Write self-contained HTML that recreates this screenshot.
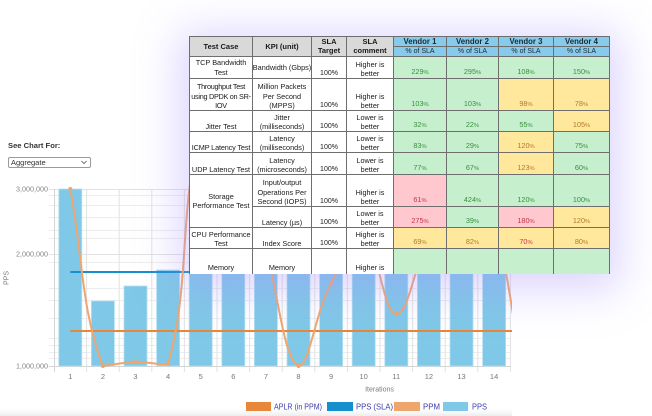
<!DOCTYPE html>
<html><head><meta charset="utf-8">
<style>
html,body{margin:0;padding:0;}
body{width:652px;height:416px;overflow:hidden;background:#fff;position:relative;font-family:"Liberation Sans",sans-serif;}
.lbl{position:absolute;left:8px;top:141px;font-size:7.6px;font-weight:bold;color:#333;white-space:nowrap;}
.sel{position:absolute;left:8px;top:157px;width:83px;height:11px;box-sizing:border-box;border:1px solid #9a9a9a;border-radius:2px;background:#fff;font-size:7.5px;color:#333;line-height:9px;padding-left:2px;}
.sel svg{position:absolute;right:3px;top:2px;}
#tbl{position:absolute;left:189px;top:36px;width:420px;height:237px;border-left:1px solid #6e6e6e;border-top:1px solid #6e6e6e;background:#fff;box-shadow:0 6px 40px 10px rgba(165,145,255,0.38);overflow:hidden;}
.c{position:absolute;box-sizing:border-box;border-right:1px solid #6e6e6e;border-bottom:1px solid #6e6e6e;display:flex;flex-direction:column;justify-content:flex-end;align-items:center;text-align:center;font-size:7.3px;line-height:9.2px;color:#1a1a1a;overflow:hidden;white-space:nowrap;}
.m{justify-content:center;}
.h{background:#d9d9d9;font-weight:bold;justify-content:center;font-size:7.5px;color:#1a1a1a;}
.v{background:#86cbeb;font-weight:bold;justify-content:center;font-size:7.8px;line-height:9px;color:#1d2a33;}
.v2{background:#86cbeb;justify-content:center;font-size:7px;line-height:9px;color:#1d2a33;}
.g{background:#c6efce;color:#3b8f3f;}
.y{background:#ffe89c;color:#b07a2c;}
.r{background:#ffc7ce;color:#c4374a;}
.val{font-size:7.3px;}
.val small{font-size:5.8px;}
.tg{font-size:7px;}
.mem{justify-content:flex-start;padding-top:14px;border-bottom:none;}
</style></head>
<body>

<svg width="652" height="416" style="position:absolute;left:0;top:0" xmlns="http://www.w3.org/2000/svg">
<defs>
<clipPath id="cp"><rect x="0" y="0" width="512" height="416"/></clipPath>
<linearGradient id="bg" x1="0" y1="0" x2="0" y2="1"><stop offset="0" stop-color="#ffffff" stop-opacity="0"/><stop offset="1" stop-color="#ececec" stop-opacity="1"/></linearGradient>
</defs>
<rect x="0" y="406" width="512" height="10" fill="url(#bg)"/>
<g stroke="#ededed" stroke-width="1">
<line x1="49" y1="195.5" x2="511" y2="195.5"/>
<line x1="49" y1="205.5" x2="511" y2="205.5"/>
<line x1="49" y1="217.5" x2="511" y2="217.5"/>
<line x1="49" y1="230.5" x2="511" y2="230.5"/>
<line x1="49" y1="238.5" x2="511" y2="238.5"/>
<line x1="49" y1="262.5" x2="511" y2="262.5"/>
<line x1="49" y1="288.5" x2="511" y2="288.5"/>
<line x1="49" y1="300.5" x2="511" y2="300.5"/>
<line x1="49" y1="318.5" x2="511" y2="318.5"/>
<line x1="49" y1="338.5" x2="511" y2="338.5"/>
<line x1="49" y1="345.5" x2="511" y2="345.5"/>
<line x1="49" y1="352.5" x2="511" y2="352.5"/>
<line x1="49" y1="358.5" x2="511" y2="358.5"/>
</g>
<g stroke="#e2e2e2" stroke-width="1">
<line x1="49" y1="189.5" x2="511" y2="189.5"/>
<line x1="49" y1="254.5" x2="511" y2="254.5"/>
<line x1="86.6" y1="189" x2="86.6" y2="372"/>
<line x1="119.2" y1="189" x2="119.2" y2="372"/>
<line x1="151.8" y1="189" x2="151.8" y2="372"/>
<line x1="184.4" y1="189" x2="184.4" y2="372"/>
<line x1="217" y1="189" x2="217" y2="372"/>
<line x1="249.6" y1="189" x2="249.6" y2="372"/>
<line x1="282.2" y1="189" x2="282.2" y2="372"/>
<line x1="314.8" y1="189" x2="314.8" y2="372"/>
<line x1="347.4" y1="189" x2="347.4" y2="372"/>
<line x1="380" y1="189" x2="380" y2="372"/>
<line x1="412.6" y1="189" x2="412.6" y2="372"/>
<line x1="445.2" y1="189" x2="445.2" y2="372"/>
<line x1="477.8" y1="189" x2="477.8" y2="372"/>
<line x1="510.4" y1="189" x2="510.4" y2="372"/>
</g>
<line x1="54.5" y1="189" x2="54.5" y2="372" stroke="#d4d4d4"/>
<line x1="49" y1="366.5" x2="511" y2="366.5" stroke="#d4d4d4"/>

<g fill="#7fc8e7" stroke="#b3e0f3" stroke-width="0.8">
<rect x="58.8" y="189" width="23" height="177"/>
<rect x="91.4" y="301" width="23" height="65"/>
<rect x="124" y="286" width="23" height="80"/>
<rect x="156.6" y="270" width="23" height="96"/>
<rect x="189.2" y="255" width="23" height="111"/>
<rect x="221.8" y="255" width="23" height="111"/>
<rect x="254.4" y="255" width="23" height="111"/>
<rect x="287" y="255" width="23" height="111"/>
<rect x="319.6" y="255" width="23" height="111"/>
<rect x="352.2" y="255" width="23" height="111"/>
<rect x="384.8" y="255" width="23" height="111"/>
<rect x="417.4" y="255" width="23" height="111"/>
<rect x="450" y="255" width="23" height="111"/>
<rect x="482.6" y="255" width="23" height="111"/>
</g>

<g clip-path="url(#cp)">
<line x1="70.3" y1="272" x2="512" y2="272" stroke="#168fcf" stroke-width="2"/>
<line x1="70.3" y1="331" x2="512" y2="331" stroke="#e8873a" stroke-width="2"/>
<path d="M70.3,189 C83.2,259.8 80.8,307.5 102.9,366 C107,366 122.5,362.4 135.5,362 C148.5,361.6 164.8,366 168.1,364 C191,282.4 178.1,212.4 200.7,130 C204.1,118.8 227.7,120.2 233.3,130 C253.7,168.2 252.7,202.1 265.9,250 C278.9,296.5 283.5,358.4 298.5,366 C309.5,366 314.7,314.4 331.1,283 C340.9,264 353.5,235 363.7,240 C379.5,247.4 383,314 396.3,314 C409,314 413,267.8 428.9,240 C439.2,222.2 447.5,202.2 461.5,200 C473.5,198.2 487.8,214.1 494.1,230 C513.8,280.5 515,366 526.5,366" fill="none" stroke="#efa56e" stroke-width="2"/>
<g fill="#efa56e">
<circle cx="70.3" cy="189" r="2"/><circle cx="102.9" cy="366" r="2"/><circle cx="135.5" cy="362" r="2"/><circle cx="168.1" cy="364" r="2"/>
<circle cx="298.5" cy="366" r="2"/><circle cx="331.1" cy="283" r="2"/><circle cx="396.3" cy="314" r="2"/>
</g>
</g>

<g font-family="Liberation Sans, sans-serif" font-size="7.2" fill="#858585" text-anchor="end">
<text x="48" y="191.5">3,000,000</text>
<text x="48" y="256.5">2,000,000</text>
<text x="48" y="368.5">1,000,000</text>
</g>
<g font-family="Liberation Sans, sans-serif" font-size="7.5" fill="#777" text-anchor="middle">
<text x="70.3" y="379">1</text><text x="102.9" y="379">2</text><text x="135.5" y="379">3</text><text x="168.1" y="379">4</text>
<text x="200.7" y="379">5</text><text x="233.3" y="379">6</text><text x="265.9" y="379">7</text><text x="298.5" y="379">8</text>
<text x="331.1" y="379">9</text><text x="363.7" y="379">10</text><text x="396.3" y="379">11</text><text x="428.9" y="379">12</text>
<text x="461.5" y="379">13</text><text x="494.1" y="379">14</text>
</g>
<text x="379.5" y="391.5" font-family="Liberation Sans, sans-serif" font-size="7" fill="#7a7a7a" text-anchor="middle">Iterations</text>
<text transform="translate(8.5,278) rotate(-90)" font-family="Liberation Sans, sans-serif" font-size="7" fill="#7a7a7a" text-anchor="middle">PPS</text>

<rect x="246" y="402" width="25" height="9" fill="#e8873a"/>
<rect x="327" y="402" width="26" height="9" fill="#168fcf"/>
<rect x="394" y="402" width="26" height="9" fill="#efa56e"/>
<rect x="443" y="402" width="25" height="9" fill="#7fc8e7"/>
<g font-family="Liberation Sans, sans-serif" font-size="8.5" fill="#3c3ca8">
<text x="274" y="409.5" textLength="48" lengthAdjust="spacingAndGlyphs">APLR (in PPM)</text>
<text x="356" y="409.5" textLength="37" lengthAdjust="spacingAndGlyphs">PPS (SLA)</text>
<text x="423" y="409.5" textLength="17" lengthAdjust="spacingAndGlyphs">PPM</text>
<text x="472" y="409.5" textLength="15" lengthAdjust="spacingAndGlyphs">PPS</text>
</g>
</svg>

<div class="lbl">See Chart For:</div>
<div class="sel">Aggregate<svg width="6" height="5" viewBox="0 0 6 5"><polyline points="0.5,1 3,3.5 5.5,1" fill="none" stroke="#555" stroke-width="0.8"/></svg></div>

<div id="tbl">
<div class="c h" style="left:0;top:0;width:63px;height:20px">Test Case</div>
<div class="c h" style="left:63px;top:0;width:59px;height:20px">KPI (unit)</div>
<div class="c h" style="left:122px;top:0;width:35px;height:20px;line-height:8.6px">SLA<br>Target</div>
<div class="c h" style="left:157px;top:0;width:47px;height:20px;line-height:8.6px">SLA<br>comment</div>
<div class="c v" style="left:204px;top:0;width:53px;height:10px">Vendor 1</div>
<div class="c v" style="left:257px;top:0;width:52px;height:10px">Vendor 2</div>
<div class="c v" style="left:309px;top:0;width:55px;height:10px">Vendor 3</div>
<div class="c v" style="left:364px;top:0;width:56px;height:10px">Vendor 4</div>
<div class="c v2" style="left:204px;top:10px;width:53px;height:10px">% of SLA</div>
<div class="c v2" style="left:257px;top:10px;width:52px;height:10px">% of SLA</div>
<div class="c v2" style="left:309px;top:10px;width:55px;height:10px">% of SLA</div>
<div class="c v2" style="left:364px;top:10px;width:56px;height:10px">% of SLA</div>

<div class="c m" style="left:0;top:20px;width:63px;height:22px">TCP Bandwidth<br>Test</div>
<div class="c m" style="left:63px;top:20px;width:59px;height:22px">Bandwidth (Gbps)</div>
<div class="c tg" style="left:122px;top:20px;width:35px;height:22px">100%</div>
<div class="c" style="left:157px;top:20px;width:47px;height:22px">Higher is<br>better</div>
<div class="c g val" style="left:204px;top:20px;width:53px;height:22px"><span>229<small>%</small></span></div>
<div class="c g val" style="left:257px;top:20px;width:52px;height:22px"><span>295<small>%</small></span></div>
<div class="c g val" style="left:309px;top:20px;width:55px;height:22px"><span>108<small>%</small></span></div>
<div class="c g val" style="left:364px;top:20px;width:56px;height:22px"><span>150<small>%</small></span></div>

<div class="c" style="left:0;top:42px;width:63px;height:32px;letter-spacing:-0.3px">Throughput Test<br>using DPDK on SR-<br>IOV</div>
<div class="c" style="left:63px;top:42px;width:59px;height:32px">Million Packets<br>Per Second<br>(MPPS)</div>
<div class="c tg" style="left:122px;top:42px;width:35px;height:32px">100%</div>
<div class="c" style="left:157px;top:42px;width:47px;height:32px">Higher is<br>better</div>
<div class="c g val" style="left:204px;top:42px;width:53px;height:32px"><span>103<small>%</small></span></div>
<div class="c g val" style="left:257px;top:42px;width:52px;height:32px"><span>103<small>%</small></span></div>
<div class="c y val" style="left:309px;top:42px;width:55px;height:32px"><span>98<small>%</small></span></div>
<div class="c y val" style="left:364px;top:42px;width:56px;height:32px"><span>78<small>%</small></span></div>

<div class="c" style="left:0;top:74px;width:63px;height:21px">Jitter Test</div>
<div class="c" style="left:63px;top:74px;width:59px;height:21px">Jitter<br>(milliseconds)</div>
<div class="c tg" style="left:122px;top:74px;width:35px;height:21px">100%</div>
<div class="c" style="left:157px;top:74px;width:47px;height:21px">Lower is<br>better</div>
<div class="c g val" style="left:204px;top:74px;width:53px;height:21px"><span>32<small>%</small></span></div>
<div class="c g val" style="left:257px;top:74px;width:52px;height:21px"><span>22<small>%</small></span></div>
<div class="c g val" style="left:309px;top:74px;width:55px;height:21px"><span>55<small>%</small></span></div>
<div class="c y val" style="left:364px;top:74px;width:56px;height:21px"><span>105<small>%</small></span></div>

<div class="c" style="left:0;top:95px;width:63px;height:21px;letter-spacing:-0.15px">ICMP Latency Test</div>
<div class="c" style="left:63px;top:95px;width:59px;height:21px">Latency<br>(milliseconds)</div>
<div class="c tg" style="left:122px;top:95px;width:35px;height:21px">100%</div>
<div class="c" style="left:157px;top:95px;width:47px;height:21px">Lower is<br>better</div>
<div class="c g val" style="left:204px;top:95px;width:53px;height:21px"><span>83<small>%</small></span></div>
<div class="c g val" style="left:257px;top:95px;width:52px;height:21px"><span>29<small>%</small></span></div>
<div class="c y val" style="left:309px;top:95px;width:55px;height:21px"><span>120<small>%</small></span></div>
<div class="c g val" style="left:364px;top:95px;width:56px;height:21px"><span>75<small>%</small></span></div>

<div class="c" style="left:0;top:116px;width:63px;height:22px">UDP Latency Test</div>
<div class="c" style="left:63px;top:116px;width:59px;height:22px">Latency<br>(microseconds)</div>
<div class="c tg" style="left:122px;top:116px;width:35px;height:22px">100%</div>
<div class="c" style="left:157px;top:116px;width:47px;height:22px">Lower is<br>better</div>
<div class="c g val" style="left:204px;top:116px;width:53px;height:22px"><span>77<small>%</small></span></div>
<div class="c g val" style="left:257px;top:116px;width:52px;height:22px"><span>67<small>%</small></span></div>
<div class="c y val" style="left:309px;top:116px;width:55px;height:22px"><span>123<small>%</small></span></div>
<div class="c g val" style="left:364px;top:116px;width:56px;height:22px"><span>60<small>%</small></span></div>

<div class="c m" style="left:0;top:138px;width:63px;height:53px">Storage<br>Performance Test</div>
<div class="c" style="left:63px;top:138px;width:59px;height:32px">Input/output<br>Operations Per<br>Second (IOPS)</div>
<div class="c tg" style="left:122px;top:138px;width:35px;height:32px">100%</div>
<div class="c" style="left:157px;top:138px;width:47px;height:32px">Higher is<br>better</div>
<div class="c r val" style="left:204px;top:138px;width:53px;height:32px"><span>61<small>%</small></span></div>
<div class="c g val" style="left:257px;top:138px;width:52px;height:32px"><span>424<small>%</small></span></div>
<div class="c g val" style="left:309px;top:138px;width:55px;height:32px"><span>120<small>%</small></span></div>
<div class="c g val" style="left:364px;top:138px;width:56px;height:32px"><span>100<small>%</small></span></div>

<div class="c" style="left:63px;top:170px;width:59px;height:21px">Latency (µs)</div>
<div class="c tg" style="left:122px;top:170px;width:35px;height:21px">100%</div>
<div class="c" style="left:157px;top:170px;width:47px;height:21px">Lower is<br>better</div>
<div class="c r val" style="left:204px;top:170px;width:53px;height:21px"><span>275<small>%</small></span></div>
<div class="c g val" style="left:257px;top:170px;width:52px;height:21px"><span>39<small>%</small></span></div>
<div class="c r val" style="left:309px;top:170px;width:55px;height:21px"><span>180<small>%</small></span></div>
<div class="c y val" style="left:364px;top:170px;width:56px;height:21px"><span>120<small>%</small></span></div>

<div class="c" style="left:0;top:191px;width:63px;height:21px">CPU Performance<br>Test</div>
<div class="c" style="left:63px;top:191px;width:59px;height:21px">Index Score</div>
<div class="c tg" style="left:122px;top:191px;width:35px;height:21px">100%</div>
<div class="c" style="left:157px;top:191px;width:47px;height:21px">Higher is<br>better</div>
<div class="c y val" style="left:204px;top:191px;width:53px;height:21px"><span>69<small>%</small></span></div>
<div class="c y val" style="left:257px;top:191px;width:52px;height:21px"><span>82<small>%</small></span></div>
<div class="c y val" style="left:309px;top:191px;width:55px;height:21px;color:#c4374a"><span>70<small>%</small></span></div>
<div class="c y val" style="left:364px;top:191px;width:56px;height:21px"><span>80<small>%</small></span></div>

<div class="c mem" style="left:0;top:212px;width:63px;height:25px">Memory</div>
<div class="c mem" style="left:63px;top:212px;width:59px;height:25px">Memory</div>
<div class="c mem" style="left:122px;top:212px;width:35px;height:25px"></div>
<div class="c mem" style="left:157px;top:212px;width:47px;height:25px">Higher is</div>
<div class="c g mem" style="left:204px;top:212px;width:53px;height:25px"></div>
<div class="c g mem" style="left:257px;top:212px;width:52px;height:25px"></div>
<div class="c g mem" style="left:309px;top:212px;width:55px;height:25px"></div>
<div class="c g mem" style="left:364px;top:212px;width:56px;height:25px"></div>
</div>

</body></html>
